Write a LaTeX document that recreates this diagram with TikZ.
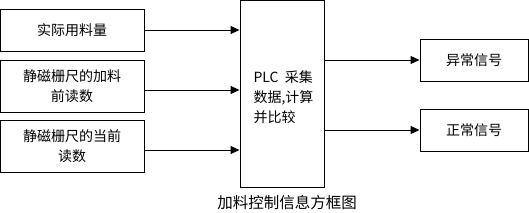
\documentclass[tikz,border=0pt]{standalone}
\usepackage{fontspec}
\newfontfamily\cjk{Noto Sans CJK SC}
\usetikzlibrary{arrows.meta}
\begin{document}
\begin{tikzpicture}[x=1pt,y=-1pt,
  box/.style={draw,line width=1pt,inner sep=0pt},
  lbl/.style={font=\cjk\fontsize{14}{20}\selectfont,align=center},
  arr/.style={line width=1pt,-{Triangle[length=9pt,width=8pt]}}]
\useasboundingbox (0,0) rectangle (529,212);
\node[box,minimum width=144,minimum height=42] (a) at (72,30) {};
\node[lbl] at (a) {实际用料量};
\node[box,minimum width=144,minimum height=52] (b) at (72,86) {};
\node[lbl] at (b) {静磁栅尺的加料\\前读数};
\node[box,minimum width=144,minimum height=52] (c) at (72,146) {};
\node[lbl] at (c) {静磁栅尺的当前\\读数};
\node[box,minimum width=84,minimum height=187] (p) at (282,93.5) {};
\node[lbl,align=left,anchor=west] (pt) at (250,97) {PLC\ \ 采集\\数据,计算\\并比较};
\node[box,minimum width=108,minimum height=42] (e) at (474,60) {};
\node[lbl] at (e) {异常信号};
\node[box,minimum width=108,minimum height=42] (f) at (474,130) {};
\node[lbl] at (f) {正常信号};
\node[lbl,font=\cjk\fontsize{15.5}{20}\selectfont] (cap) at (287,203) {加料控制信息方框图};
\draw[arr] (a.east) -- (a.east -| p.west);
\draw[arr] ([yshift=-4pt]b.east) -- ([yshift=-4pt]b.east -| p.west);
\draw[arr] ([yshift=-4pt]c.east) -- ([yshift=-4pt]c.east -| p.west);
\draw[arr] (p.east |- e.west) -- (e.west);
\draw[arr] (p.east |- f.west) -- (f.west);
\end{tikzpicture}
\end{document}
